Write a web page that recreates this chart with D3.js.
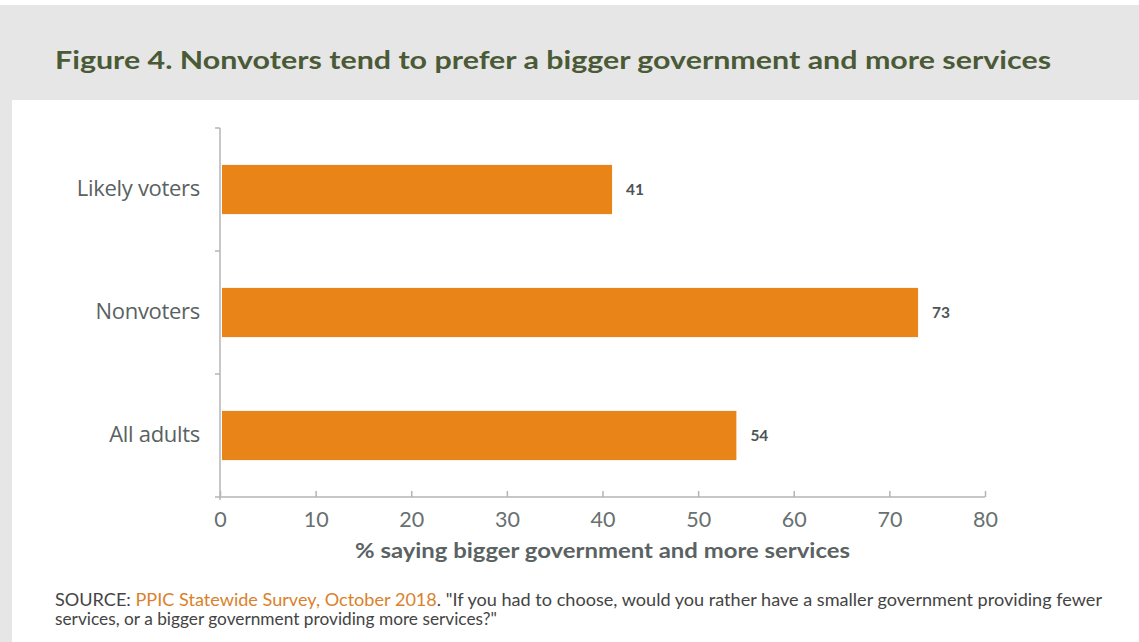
<!DOCTYPE html>
<html>
<head>
<meta charset="utf-8">
<script src="https://cdn.jsdelivr.net/npm/d3@7"></script>
<style>
  html, body { margin: 0; padding: 0; background: #fff; }
  svg { display: block; font-family: Lato, "Open Sans", sans-serif; }
</style>
</head>
<body>
<div id="chart"></div>
<script>
// Chart data
const categories = ['Likely voters', 'Nonvoters', 'All adults'];
const values = [41, 73, 54];
const xTicks = [0, 10, 20, 30, 40, 50, 60, 70, 80];

const width = 1139;
const height = 642;
const margin = { top: 128, right: 154, bottom: 145, left: 220 };
const chartWidth = width - margin.left - margin.right;
const chartHeight = height - margin.top - margin.bottom;

const svg = d3.select('#chart')
    .append('svg')
    .attr('width', width)
    .attr('height', height);

// Gray frame: header band and left strip
svg.append('rect')
    .attr('x', 0).attr('y', 5)
    .attr('width', width).attr('height', 95)
    .attr('fill', '#e6e6e6');
svg.append('rect')
    .attr('x', 0).attr('y', 100)
    .attr('width', 12).attr('height', height - 100)
    .attr('fill', '#e6e6e6');

// Title
svg.append('text')
    .attr('x', 55)
    .attr('y', 69)
    .attr('fill', '#4b5a36')
    .style('font-size', '25px')
    .style('font-weight', 700)
    .attr('textLength', 996)
    .attr('lengthAdjust', 'spacingAndGlyphs')
    .text('Figure 4. Nonvoters tend to prefer a bigger government and more services');

const g = svg.append('g')
    .attr('transform', `translate(${margin.left}, ${margin.top})`);

// Scales
const xScale = d3.scaleLinear()
    .domain([0, 80])
    .range([0, chartWidth]);

const yScale = d3.scaleBand()
    .domain(categories)
    .range([0, chartHeight])
    .paddingInner(0.6)
    .paddingOuter(0.3);

// Bars
g.selectAll('.bar')
    .data(categories)
    .enter()
    .append('rect')
    .attr('class', 'bar')
    .attr('x', xScale(0) + 2)
    .attr('y', d => yScale(d))
    .attr('width', (d, i) => xScale(values[i]) - xScale(0) - 2)
    .attr('height', yScale.bandwidth())
    .attr('fill', '#e88418');

// Value labels
g.selectAll('.value-label')
    .data(categories)
    .enter()
    .append('text')
    .attr('class', 'value-label')
    .attr('x', (d, i) => xScale(values[i]) + 14)
    .attr('y', d => yScale(d) + yScale.bandwidth() / 2)
    .attr('dy', '0.35em')
    .attr('fill', '#4d5555')
    .style('font-size', '15.5px')
    .style('font-weight', 700)
    .text((d, i) => values[i]);

// Y axis: ticks at band boundaries
const yAxis = g.append('g').attr('class', 'y-axis');
yAxis.append('line')
    .attr('x1', 0).attr('x2', 0)
    .attr('y1', 0).attr('y2', chartHeight + 3)
    .attr('stroke', '#b4b4b4')
    .attr('stroke-width', 1.5);
yAxis.selectAll('.ytick')
    .data([0, 1, 2].map(i => i * yScale.step()))
    .enter()
    .append('line')
    .attr('x1', -5).attr('x2', 0)
    .attr('y1', d => d).attr('y2', d => d)
    .attr('stroke', '#b4b4b4')
    .attr('stroke-width', 1.5);

// Category labels
g.selectAll('.cat-label')
    .data(categories)
    .enter()
    .append('text')
    .attr('class', 'cat-label')
    .attr('x', -20)
    .attr('y', d => yScale(d) + yScale.bandwidth() / 2)
    .attr('dy', '0.3em')
    .attr('text-anchor', 'end')
    .attr('fill', '#596262')
    .style('font-size', '22px')
    .style('font-family', '"Open Sans", sans-serif')
    .style('letter-spacing', '-0.3px')
    .text(d => d);

// X axis
const xAxis = g.append('g')
    .attr('class', 'x-axis')
    .attr('transform', `translate(0,${chartHeight})`)
    .call(d3.axisBottom(xScale)
        .tickValues(xTicks)
        .tickSize(-6)
        .tickSizeOuter(0)
        .tickPadding(15));
xAxis.select('.domain')
    .attr('d', `M-5,0H${chartWidth}`)
    .attr('stroke', '#b4b4b4')
    .attr('stroke-width', 1.5);
xAxis.selectAll('.tick line')
    .attr('stroke', '#b4b4b4')
    .attr('stroke-width', 1.5);
xAxis.selectAll('.tick text')
    .attr('fill', '#687070')
    .style('font-size', '21.5px')
    .style('font-family', 'Lato, "Open Sans", sans-serif');

// X axis label
g.append('text')
    .attr('class', 'x-axis-label')
    .attr('x', chartWidth / 2)
    .attr('y', chartHeight + 61)
    .attr('text-anchor', 'middle')
    .attr('fill', '#5a6262')
    .style('font-size', '21px')
    .style('font-weight', 700)
    .attr('textLength', 495)
    .attr('lengthAdjust', 'spacingAndGlyphs')
    .text('% saying bigger government and more services');

// Source note
const source = svg.append('text')
    .attr('x', 55)
    .attr('y', 606)
    .attr('fill', '#444')
    .style('font-size', '16.5px')
    .attr('textLength', 1047)
    .attr('lengthAdjust', 'spacingAndGlyphs');
source.append('tspan').text('SOURCE: ');
source.append('tspan').attr('fill', '#d9822b').text('PPIC Statewide Survey, October 2018');
source.append('tspan').text('. "If you had to choose, would you rather have a smaller government providing fewer');
svg.append('text')
    .attr('x', 55)
    .attr('y', 625)
    .attr('fill', '#444')
    .style('font-size', '16.5px')
    .attr('textLength', 442)
    .attr('lengthAdjust', 'spacingAndGlyphs')
    .text('services, or a bigger government providing more services?"');
</script>
</body>
</html>
